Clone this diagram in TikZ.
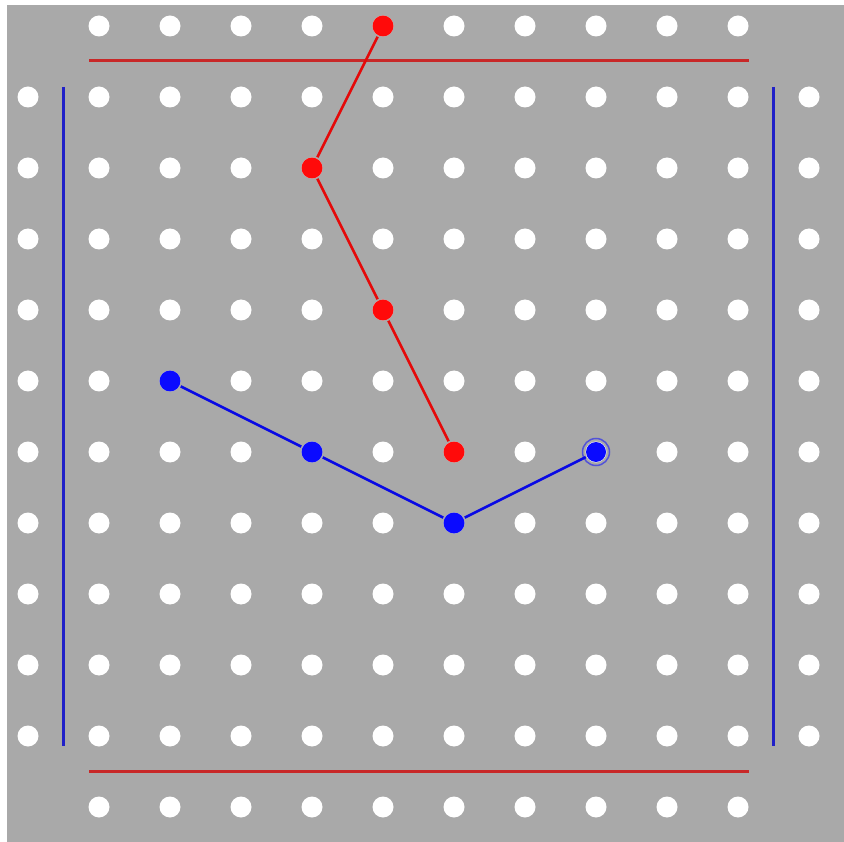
\documentclass[tikz,border=0pt]{standalone}
\usetikzlibrary{positioning}
\definecolor{board}{HTML}{A9A9A9}
\definecolor{redside}{HTML}{C82828}
\definecolor{blueside}{HTML}{2020C8}
\definecolor{redpeg}{HTML}{FF0A0A}
\definecolor{bluepeg}{HTML}{0A0AFF}

\begin{document}
\begin{tikzpicture}[x=1pt, y=-1pt, line width=3pt,
    hole/.style={circle, fill=white, inner sep=0pt, minimum size=21pt},
    redp/.style={circle, fill=redpeg, inner sep=0pt, minimum size=21pt},
    bluep/.style={circle, fill=bluepeg, inner sep=0pt, minimum size=21pt},
    redlink/.style={draw=redpeg!90!black, line width=2.6pt},
    bluelink/.style={draw=bluepeg!90!black, line width=2.6pt}]
    \useasboundingbox (0,0) rectangle (844,842);
    \fill[board] (7,5) rectangle (844,842);

    % holes
    \foreach \r in {0,...,11}
      \foreach \c in {0,...,11} {
        \pgfmathtruncatemacro{\edge}{(\r==0 || \r==11) && (\c==0 || \c==11)}
        \ifnum\edge=0
          \node[hole] (h-\c-\r) at ({28+71*\c}, {26+71*\r}) {};
        \fi
      }

    % borders
    \draw[redside] (89,61) -- (749,61);
    \draw[redside] (89,771) -- (749,771);
    \draw[blueside] (63,87) -- (63,746);
    \draw[blueside] (773,87) -- (773,746);

    % red pegs
    \node[redp] (r1) at (h-5-0) {};
    \node[redp] (r2) at (h-4-2) {};
    \node[redp] (r3) at (h-5-4) {};
    \node[redp] (r4) at (h-6-6) {};

    % blue pegs
    \node[bluep] (b1) at (h-2-5) {};
    \node[bluep] (b2) at (h-4-6) {};
    \node[bluep] (b3) at (h-6-7) {};
    \node[bluep, minimum size=20pt] (b4) at (h-8-6) {};
    \draw[bluepeg!55!board, line width=1.5pt] (b4.center) circle (13.5pt);

    \path (r1) edge[redlink] (r2)
          (r2) edge[redlink] (r3)
          (r3) edge[redlink] (r4);
    \path (b1) edge[bluelink] (b2)
          (b2) edge[bluelink] (b3)
          (b3) edge[bluelink] (b4);
\end{tikzpicture}
\end{document}
